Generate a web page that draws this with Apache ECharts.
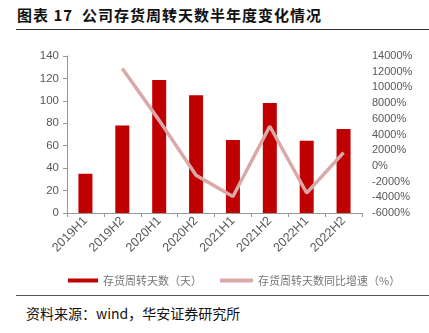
<!DOCTYPE html>
<html><head><meta charset="utf-8">
<script src="https://cdn.jsdelivr.net/npm/echarts@6/dist/echarts.min.js"></script>
<style>
html,body{margin:0;padding:0;background:#fff;}
#wrap{position:relative;width:429px;height:333px;overflow:hidden;font-family:"Noto Sans CJK SC",sans-serif;}
#title{position:absolute;left:17px;top:4px;font-size:15px;letter-spacing:1px;font-weight:bold;color:#111;white-space:nowrap;}
#tline{position:absolute;left:16px;top:29px;width:413px;height:1px;background:#333;}
#bline{position:absolute;left:16px;top:295px;width:413px;height:1px;background:#555;}
#src{position:absolute;left:26px;top:303px;font-size:14px;color:#111;white-space:nowrap;}
#chart{position:absolute;left:0;top:30px;width:429px;height:265px;}
</style></head>
<body><div id="wrap">
<div id="title">图表 17&nbsp;&nbsp;公司存货周转天数半年度变化情况</div>
<div id="tline"></div>
<div id="chart"></div>
<div id="bline"></div>
<div id="src">资料来源：wind，华安证券研究所</div>
</div>
<script>
const categories = ['2019H1','2019H2','2020H1','2020H2','2021H1','2021H2','2022H1','2022H2'];
const turnoverDays = [35, 78, 118.5, 105, 65, 98, 64.5, 75];
const yoyGrowth = [null, 12400, 5800, -1200, -3900, 5050, -3450, 1700];
const barName = '存货周转天数（天）';
const lineName = '存货周转天数同比增速（%）';

const chart = echarts.init(document.getElementById('chart'));
const gray = '#595959';
const legendText = {color: '#777', fontSize: 11, fontFamily: 'Noto Sans CJK SC'};
chart.setOption({
  animation: false,
  textStyle: {fontFamily: 'Liberation Sans, Arial, sans-serif'},
  grid: {left: 67, right: 67, top: 26, bottom: 82},
  legend: [{
    top: 240, left: 63, itemWidth: 30, itemHeight: 4,
    textStyle: legendText,
    data: [{name: barName, icon: 'rect'}]
  }, {
    top: 240, left: 215, itemWidth: 33, itemHeight: 4,
    textStyle: legendText,
    data: [{name: lineName, icon: 'roundRect'}]
  }],
  xAxis: {
    type: 'category', data: categories,
    axisLine: {lineStyle: {color: '#999'}},
    axisTick: {show: true, length: 4, lineStyle: {color: '#999'}},
    axisLabel: {rotate: 45, color: gray, fontSize: 12.5, margin: 6}
  },
  yAxis: [{
    type: 'value', min: 0, max: 140, interval: 20,
    axisLine: {show: true, lineStyle: {color: '#999'}},
    axisTick: {show: true, length: 4, lineStyle: {color: '#999'}},
    axisLabel: {color: gray, fontSize: 11.5, margin: 8},
    splitLine: {show: false}
  }, {
    type: 'value', min: -6000, max: 14000, interval: 2000,
    axisLine: {show: false}, axisTick: {show: false},
    axisLabel: {color: gray, fontSize: 11, margin: 10, align: 'left', formatter: v => v + '%'},
    splitLine: {show: false}
  }],
  series: [{
    name: barName, type: 'bar', data: turnoverDays, barWidth: 14,
    itemStyle: {color: '#C00000'}
  }, {
    name: lineName, type: 'line', yAxisIndex: 1, data: yoyGrowth,
    symbol: 'none', lineStyle: {color: '#DAA8A8', width: 3.5},
    itemStyle: {color: '#DAA8A8'}
  }]
});
</script></body></html>
